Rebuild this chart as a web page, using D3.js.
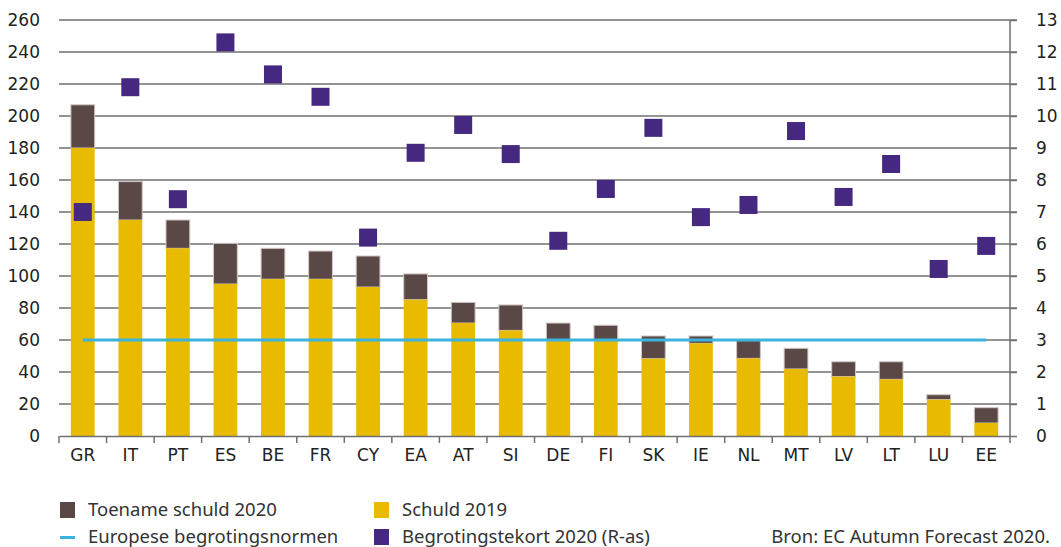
<!DOCTYPE html>
<html>
<head>
<meta charset="utf-8">
<script src="https://cdn.jsdelivr.net/npm/d3@7"></script>
<style>
  body { margin: 0; background: #fff; }
  svg { display: block; }
  .axis text { font-family: "DejaVu Sans", sans-serif; font-size: 17px; fill: #222; }
  .legend text { font-family: "Noto Sans", sans-serif; font-size: 18.5px; fill: #333; }
</style>
</head>
<body>
<svg width="1061" height="547"></svg>
<script>
var countries = ["GR", "IT", "PT", "ES", "BE", "FR", "CY", "EA", "AT", "SI", "DE", "FI", "SK", "IE", "NL", "MT", "LV", "LT", "LU", "EE"];
var debt2019 = [180, 135, 117.3, 95, 98, 98, 93.1, 85.2, 70.6, 66, 59.6, 59.6, 48.3, 57.9, 48.5, 41.9, 37.1, 35.4, 22.7, 8.1];
var debt2020 = [207, 159, 135, 120.4, 117.3, 115.6, 112.5, 101.3, 83.5, 81.9, 70.6, 69.2, 62.5, 62.5, 59.6, 54.8, 46.4, 46.4, 25.8, 17.7];
var deficit2020 = [7.0, 10.9, 7.4, 12.3, 11.3, 10.6, 6.2, 8.85, 9.72, 8.81, 6.1, 7.72, 9.63, 6.84, 7.22, 9.53, 7.47, 8.5, 5.22, 5.94];
var normLevel = 60;
var leftTicks = d3.range(0, 261, 20);
var rightTicks = d3.range(0, 14, 1);

var svg = d3.select("svg"),
  margin = {top: 20, right: 51, bottom: 111, left: 59},
  width = 1061 - margin.left - margin.right,
  height = 547 - margin.top - margin.bottom,
  g = svg.append("g").attr("transform", "translate(" + margin.left + "," + margin.top + ")");

var x = d3.scaleBand().domain(countries).range([0, width]).paddingInner(0.5).paddingOuter(0.25);
var xOuter = d3.scaleBand().domain(countries).range([0, width]);
var y = d3.scaleLinear().domain([0, 260]).range([height, 0]);
var y2 = d3.scaleLinear().domain([0, 13]).range([height, 0]);

var brown = "#5a4846", yellow = "#e9bb00", purple = "#45287f", blue = "#3bb4dd";

// gridlines
g.append("g").selectAll("line")
  .data(leftTicks.filter(function(d) { return d > 0; }))
  .enter().append("line")
  .attr("x1", 0).attr("x2", width + 7)
  .attr("y1", function(d) { return y(d); })
  .attr("y2", function(d) { return y(d); })
  .style("stroke", "#707070")
  .style("stroke-width", 1.5);

// left axis labels
var yAxis = g.append("g").attr("class", "axis")
  .call(d3.axisLeft(y).tickValues(leftTicks).tickSize(0).tickPadding(19));
yAxis.select(".domain").remove();

// right axis
var yAxis2 = g.append("g").attr("class", "axis")
  .attr("transform", "translate(" + width + ",0)")
  .call(d3.axisRight(y2).tickValues(rightTicks).tickSize(7).tickPadding(19));
yAxis2.selectAll("line").style("stroke", "#707070").style("stroke-width", 1.5);
yAxis2.select(".domain").attr("d", "M0," + height + "V0").style("stroke", "#707070").style("stroke-width", 1.5);

var rows = countries.map(function(c, i) {
  return {id: c, d19: debt2019[i], d20: debt2020[i], def: deficit2020[i]};
});

// stacked bars
g.selectAll(".inc").data(rows).enter().append("rect")
  .attr("class", "inc")
  .attr("x", function(d) { return x(d.id); })
  .attr("width", x.bandwidth())
  .attr("y", function(d) { return y(d.d20); })
  .attr("height", function(d) { return y(d.d19) - y(d.d20); })
  .style("fill", brown)
  .style("stroke", "#cfc6c4")
  .style("stroke-width", 1);

g.selectAll(".base").data(rows).enter().append("rect")
  .attr("class", "base")
  .attr("x", function(d) { return x(d.id); })
  .attr("width", x.bandwidth())
  .attr("y", function(d) { return y(d.d19); })
  .attr("height", function(d) { return height - y(d.d19); })
  .style("fill", yellow);

// bottom axis
var xAxis = g.append("g").attr("class", "axis")
  .attr("transform", "translate(0," + height + ")")
  .call(d3.axisBottom(x).tickSize(0).tickPadding(13));
xAxis.select(".domain").style("stroke", "#707070").style("stroke-width", 1.5);
g.append("g").selectAll("line")
  .data(countries.map(function(c) { return xOuter(c); }).concat([width]))
  .enter().append("line")
  .attr("x1", function(d) { return d; }).attr("x2", function(d) { return d; })
  .attr("y1", height).attr("y2", height + 7)
  .style("stroke", "#707070").style("stroke-width", 1.5);

// norm line
g.append("line")
  .attr("x1", x(countries[0]) + x.bandwidth() / 2)
  .attr("x2", x(countries[countries.length - 1]) + x.bandwidth() / 2)
  .attr("y1", y(normLevel)).attr("y2", y(normLevel))
  .style("stroke", blue).style("stroke-width", 3);

// deficit markers
var ms = 18;
g.selectAll(".def").data(rows).enter().append("rect")
  .attr("class", "def")
  .attr("x", function(d) { return x(d.id) + x.bandwidth() / 2 - ms / 2; })
  .attr("y", function(d) { return y2(d.def) - ms / 2; })
  .attr("width", ms).attr("height", ms)
  .style("fill", purple);

// legend
var legend = svg.append("g").attr("class", "legend");
var items = [
  {label: "Toename schuld 2020", color: brown, type: "box", x: 60, y: 510},
  {label: "Schuld 2019", color: yellow, type: "box", x: 374, y: 510},
  {label: "Europese begrotingsnormen", color: blue, type: "line", x: 60, y: 537},
  {label: "Begrotingstekort 2020 (R-as)", color: purple, type: "box", x: 374, y: 537}
];
items.forEach(function(it) {
  if (it.type === "box") {
    legend.append("rect").attr("x", it.x).attr("y", it.y - 8).attr("width", 15).attr("height", 16).style("fill", it.color);
  } else {
    legend.append("rect").attr("x", it.x).attr("y", it.y - 1).attr("width", 15).attr("height", 3).style("fill", it.color);
  }
  legend.append("text").attr("x", it.x + 28).attr("y", it.y).attr("dy", "0.35em").text(it.label);
});
legend.append("text").attr("x", 1050).attr("y", 537).attr("dy", "0.35em")
  .attr("text-anchor", "end").text("Bron: EC Autumn Forecast 2020.");
</script>
</body>
</html>
